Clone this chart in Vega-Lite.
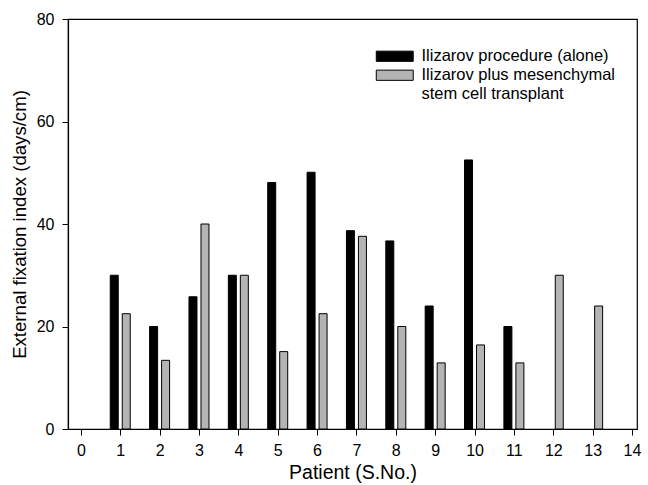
{
  "$schema": "https://vega.github.io/schema/vega-lite/v6.json",
  "width": 569,
  "height": 410,
  "autosize": "none",
  "padding": {"left": 68, "top": 19, "right": 11, "bottom": 56},
  "background": "white",
  "config": {
    "font": "Liberation Sans",
    "view": {"stroke": "black", "strokeWidth": 1.2},
    "axis": {
      "grid": false,
      "domainColor": "black",
      "domainWidth": 1.2,
      "tickColor": "black",
      "tickSize": 6,
      "labelFont": "Liberation Sans",
      "labelFontSize": 16,
      "labelColor": "black",
      "titleFont": "Liberation Sans",
      "titleFontWeight": "normal",
      "titleColor": "black"
    },
    "legend": {
      "title": null,
      "orient": "none",
      "legendX": 318.5,
      "legendY": 29,
      "symbolType": "M-3.08,-0.85H3.08V0.85H-3.08Z",
      "symbolSize": 144,
      "symbolStrokeWidth": 1,
      "symbolOpacity": 1,
      "labelFont": "Liberation Sans",
      "labelFontSize": 16.5,
      "labelColor": "black",
      "labelLimit": 400,
      "labelOffset": 18.5,
      "rowPadding": 2
    }
  },
  "data": {
    "values": [
      {"patient": 1, "group": "Ilizarov procedure (alone)", "value": 30},
      {"patient": 2, "group": "Ilizarov procedure (alone)", "value": 20},
      {"patient": 3, "group": "Ilizarov procedure (alone)", "value": 25.8},
      {"patient": 4, "group": "Ilizarov procedure (alone)", "value": 30},
      {"patient": 5, "group": "Ilizarov procedure (alone)", "value": 48.1},
      {"patient": 6, "group": "Ilizarov procedure (alone)", "value": 50.1},
      {"patient": 7, "group": "Ilizarov procedure (alone)", "value": 38.7},
      {"patient": 8, "group": "Ilizarov procedure (alone)", "value": 36.7},
      {"patient": 9, "group": "Ilizarov procedure (alone)", "value": 24},
      {"patient": 10, "group": "Ilizarov procedure (alone)", "value": 52.5},
      {"patient": 11, "group": "Ilizarov procedure (alone)", "value": 20},
      {"patient": 1, "group": "Ilizarov plus mesenchymal", "value": 22.5},
      {"patient": 2, "group": "Ilizarov plus mesenchymal", "value": 13.4},
      {"patient": 3, "group": "Ilizarov plus mesenchymal", "value": 40},
      {"patient": 4, "group": "Ilizarov plus mesenchymal", "value": 30},
      {"patient": 5, "group": "Ilizarov plus mesenchymal", "value": 15.1},
      {"patient": 6, "group": "Ilizarov plus mesenchymal", "value": 22.5},
      {"patient": 7, "group": "Ilizarov plus mesenchymal", "value": 37.6},
      {"patient": 8, "group": "Ilizarov plus mesenchymal", "value": 20},
      {"patient": 9, "group": "Ilizarov plus mesenchymal", "value": 12.9},
      {"patient": 10, "group": "Ilizarov plus mesenchymal", "value": 16.4},
      {"patient": 11, "group": "Ilizarov plus mesenchymal", "value": 12.9},
      {"patient": 12, "group": "Ilizarov plus mesenchymal", "value": 30},
      {"patient": 13, "group": "Ilizarov plus mesenchymal", "value": 24}
    ]
  },
  "encoding": {
    "x": {
      "field": "patient",
      "type": "quantitative",
      "scale": {"domain": [-0.2, 14], "nice": false, "zero": false},
      "axis": {"values": [0,1,2,3,4,5,6,7,8,9,10,11,12,13,14], "title": "Patient (S.No.)", "titleFontSize": 19.5, "labelPadding": 7, "titlePadding": 5}
    },
    "y": {
      "field": "value",
      "type": "quantitative",
      "scale": {"domain": [0, 80], "nice": false},
      "axis": {"values": [0, 20, 40, 60, 80], "title": "External fixation index (days/cm)", "titleFontSize": 18.6, "labelPadding": 8, "titlePadding": 7}
    },
    "color": {
      "field": "group",
      "type": "nominal",
      "scale": {
        "domain": ["Ilizarov procedure (alone)", "Ilizarov plus mesenchymal", "stem cell transplant"],
        "range": ["#000000", "#b4b4b4", "rgba(0,0,0,0)"]
      }
    },
    "stroke": {
      "field": "group",
      "type": "nominal",
      "scale": {
        "domain": ["Ilizarov procedure (alone)", "Ilizarov plus mesenchymal", "stem cell transplant"],
        "range": ["#000000", "#000000", "rgba(0,0,0,0)"]
      }
    }
  },
  "layer": [
    {
      "transform": [{"filter": "datum.group === 'Ilizarov procedure (alone)'"}],
      "mark": {"type": "bar", "width": 8, "xOffset": -6, "strokeWidth": 1}
    },
    {
      "transform": [{"filter": "datum.group !== 'Ilizarov procedure (alone)'"}],
      "mark": {"type": "bar", "width": 8, "xOffset": 6, "strokeWidth": 1}
    }
  ]
}
